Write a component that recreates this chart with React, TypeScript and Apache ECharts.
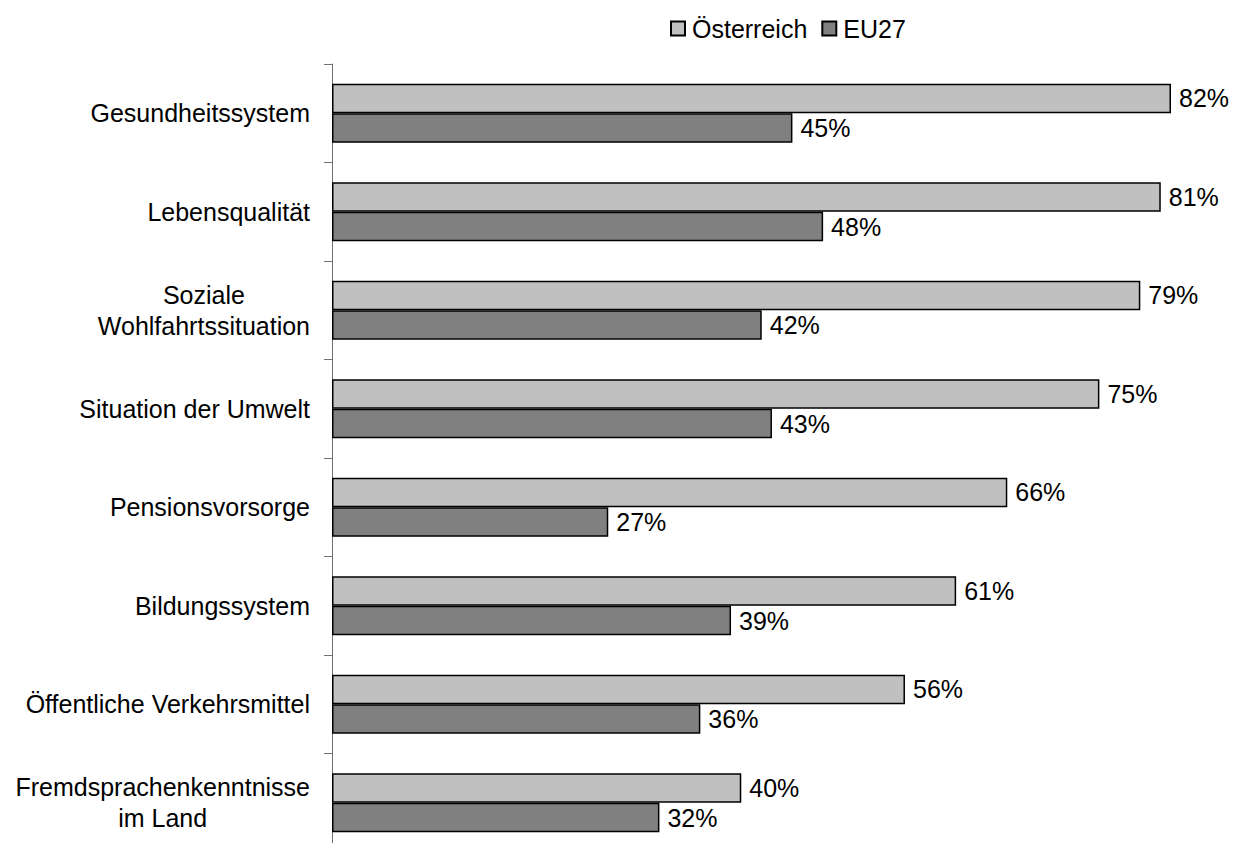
import React, { useEffect, useRef } from "react";
import * as echarts from "echarts";

const categories = [
  "Gesundheitssystem",
  "Lebensqualität",
  "Soziale\nWohlfahrtssituation",
  "Situation der Umwelt",
  "Pensionsvorsorge",
  "Bildungssystem",
  "Öffentliche Verkehrsmittel",
  "Fremdsprachenkenntnisse\nim Land",
];
const austria = [82, 81, 79, 75, 66, 61, 56, 40];
const eu27 = [45, 48, 42, 43, 27, 39, 36, 32];
const seriesNames = ["Österreich", "EU27"];

const FONT = "'Liberation Sans', Arial, sans-serif";

export default function App() {
  const ref = useRef<HTMLDivElement>(null);
  useEffect(() => {
    document.body.style.margin = "0";
    const chart = echarts.init(ref.current!, null, { renderer: "svg" });
    chart.setOption({
      animation: false,
      backgroundColor: "#ffffff",
      textStyle: { fontFamily: FONT },
      legend: {
        top: 11,
        left: 665,
        itemWidth: 14,
        itemHeight: 14,
        itemGap: 14,
        icon: "rect",
        textStyle: { fontSize: 25, color: "#000", fontFamily: FONT, padding: [0, 0, 0, 2] },
        data: seriesNames,
      },
      grid: { left: 332, right: 71, top: 64, height: 788, containLabel: false },
      xAxis: {
        type: "value",
        min: 0,
        max: 82,
        show: false,
        splitLine: { show: false },
      },
      yAxis: {
        type: "category",
        inverse: true,
        data: categories,
        axisLine: { show: true, lineStyle: { color: "#707070", width: 1 } },
        axisTick: { show: true, length: 8, lineStyle: { color: "#707070" } },
        axisLabel: {
          margin: 22,
          align: "right",
          color: "#000",
          fontSize: 25,
          fontFamily: FONT,
          formatter: (v: string) =>
            v.split("\n").map((s) => "{c|" + s + "}").join("\n"),
          rich: {
            c: { align: "center", fontSize: 25, lineHeight: 31, fontFamily: FONT, color: "#000" },
          },
        },
      },
      series: [
        {
          name: seriesNames[0],
          type: "bar",
          data: austria,
          barCategoryGap: "40%",
          barGap: "0%",
          itemStyle: { color: "#c0c0c0", borderColor: "#000", borderWidth: 1.5 },
          label: {
            show: true,
            position: "right",
            distance: 8,
            formatter: "{c}%",
            fontSize: 25,
            color: "#000",
            fontFamily: FONT,
          },
        },
        {
          name: seriesNames[1],
          type: "bar",
          data: eu27,
          barCategoryGap: "40%",
          barGap: "0%",
          itemStyle: { color: "#808080", borderColor: "#000", borderWidth: 1.5 },
          label: {
            show: true,
            position: "right",
            distance: 8,
            formatter: "{c}%",
            fontSize: 25,
            color: "#000",
            fontFamily: FONT,
          },
        },
      ],
    });
    return () => chart.dispose();
  }, []);
  return (
    <div
      style={{ position: "absolute", left: 0, top: 0, width: 1242, height: 843, overflow: "hidden" }}
    >
      <div ref={ref} style={{ width: 1242, height: 870 }} />
    </div>
  );
}
